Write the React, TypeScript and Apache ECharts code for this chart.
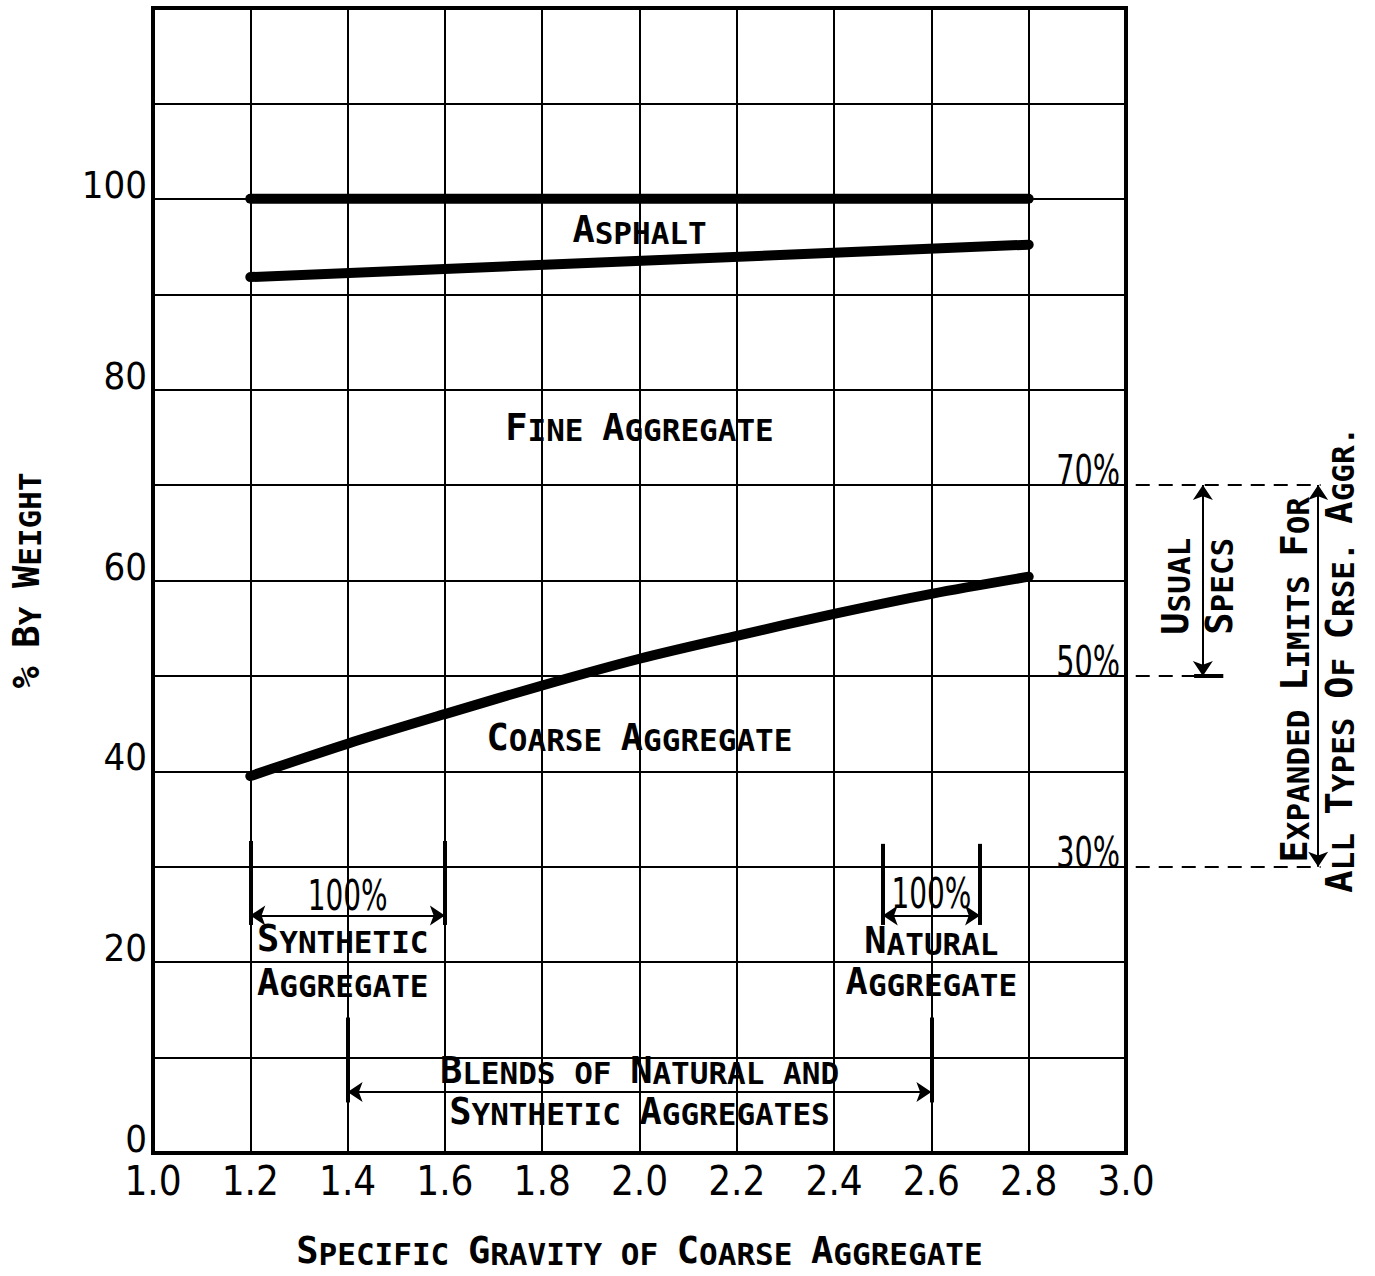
import React, { useEffect, useRef } from 'react';
import * as echarts from 'echarts';

// ---------- axes ----------
const xMin = 1.0;
const xMax = 3.0;
const xStep = 0.2;
const yMin = 0;
const yMax = 120;
const yStep = 10;
const yLabelValues = [0, 20, 40, 60, 80, 100];

// ---------- data curves ----------
const totalGravity = [1.2, 2.8];
const totalPct = [100, 100];
const asphaltGravity = [1.2, 2.8];
const asphaltBoundary = [91.8, 95.2];
const coarseGravity = [1.2, 1.4, 1.6, 1.8, 2.0, 2.2, 2.4, 2.6, 2.8];
const coarsePct = [39.5, 42.9, 46.0, 49.0, 51.8, 54.2, 56.5, 58.6, 60.4];

// ---------- specification limits ----------
const specLimits = [70, 50, 30];
const specLabels = ['70%', '50%', '30%'];

// ---------- annotation geometry (data units) ----------
const bracketLines: number[][][] = [
  [[1.2, 32.7], [1.2, 23.9]],
  [[1.6, 32.7], [1.6, 23.9]],
  [[2.5, 32.4], [2.5, 23.9]],
  [[2.7, 32.4], [2.7, 23.9]],
  [[1.4, 14.2], [1.4, 5.3]],
  [[2.6, 14.2], [2.6, 5.3]],
  [[3.14, 50], [3.2, 50]],
];
const arrowLines: number[][][] = [
  [[1.2, 24.9], [1.6, 24.9]],
  [[2.5, 24.9], [2.7, 24.9]],
  [[1.4, 6.4], [2.6, 6.4]],
  [[3.158, 70], [3.158, 50]],
  [[3.395, 70], [3.395, 30]],
];
const dashedLines: number[][][] = [
  [[3.02, 70], [3.4, 70]],
  [[3.02, 50], [3.15, 50]],
  [[3.02, 30], [3.4, 30]],
];

// ---------- annotation texts ----------
// [x, y, text, rotated]
const noteTexts: [number, number, string, boolean][] = [
  [2.0, 96.5, 'Asphalt', false],
  [2.0, 75.8, 'Fine Aggregate', false],
  [2.0, 43.3, 'Coarse Aggregate', false],
  [1.39, 22.2, 'Synthetic', false],
  [1.39, 17.6, 'Aggregate', false],
  [2.6, 22.0, 'Natural', false],
  [2.6, 17.7, 'Aggregate', false],
  [2.0, 8.4, 'Blends of Natural and', false],
  [2.0, 4.1, 'Synthetic Aggregates', false],
  [3.107, 59.4, 'Usual', true],
  [3.197, 59.4, 'Specs', true],
  [3.352, 49.6, 'Expanded Limits For', true],
  [3.444, 51.7, 'All Types Of Crse. Aggr.', true],
];
const pctTexts: [number, number, string][] = [
  [1.4, 27.0, '100%'],
  [2.6, 27.2, '100%'],
];

const xTitle = 'Specific Gravity of Coarse Aggregate';
const yTitle = '% By Weight';

const MONO = "'DejaVu Sans Mono', 'Liberation Mono', monospace";
const NARROW = "'Liberation Sans Narrow', 'DejaVu Sans Condensed', 'Liberation Sans', sans-serif";

function smallCaps(s: string): string {
  let out = '';
  let i = 0;
  const isBig = (c: string) => (c >= 'A' && c <= 'Z') || c === '%';
  while (i < s.length) {
    const big = isBig(s[i]);
    let j = i;
    while (j < s.length && isBig(s[j]) === big) j++;
    out += `{${big ? 'B' : 's'}|${s.slice(i, j).toUpperCase()}}`;
    i = j;
  }
  return out;
}

const capsRich = {
  B: { fontSize: 37, fontFamily: MONO, fontWeight: 'bold', color: '#000', verticalAlign: 'bottom', lineHeight: 32 },
  s: { fontSize: 31, fontFamily: MONO, fontWeight: 'bold', color: '#000', verticalAlign: 'bottom', lineHeight: 32 },
};

export default function App() {
  const ref = useRef<HTMLDivElement>(null);
  useEffect(() => {
    document.body.style.margin = '0';
    const chart = echarts.init(ref.current!, null, { renderer: 'svg' });
    const toPairs = (xs: number[], ys: number[]) => xs.map((x, i) => [x, ys[i]]);
    chart.setOption({
      animation: false,
      backgroundColor: '#fff',
      grid: {
        left: 153,
        right: 249,
        top: 8,
        bottom: 123,
        show: true,
        borderColor: '#000',
        borderWidth: 4,
        backgroundColor: 'transparent',
      },
      xAxis: {
        type: 'value',
        min: xMin,
        max: xMax,
        interval: xStep,
        axisLine: { show: false },
        axisTick: { show: false },
        splitLine: { show: true, lineStyle: { color: '#000', width: 2 } },
        axisLabel: {
          margin: 8,
          fontFamily: NARROW,
          fontSize: 40,
          color: '#000',
          formatter: (v: number) => v.toFixed(1),
        },
        name: smallCaps(xTitle),
        nameLocation: 'middle',
        nameGap: 84,
        nameTextStyle: { rich: capsRich },
      },
      yAxis: {
        type: 'value',
        min: yMin,
        max: yMax,
        interval: yStep,
        axisLine: { show: false },
        axisTick: { show: false },
        splitLine: { show: true, lineStyle: { color: '#000', width: 2 } },
        axisLabel: {
          margin: 6,
          fontFamily: NARROW,
          fontSize: 38,
          color: '#000',
          verticalAlign: 'bottom',
          lineHeight: 28,
          formatter: (v: number) => (yLabelValues.includes(Math.round(v)) ? String(Math.round(v)) : ''),
        },
        name: smallCaps(yTitle),
        nameLocation: 'middle',
        nameRotate: 90,
        nameGap: 108,
        nameTextStyle: { rich: capsRich },
      },
      series: [
        {
          type: 'line',
          data: toPairs(totalGravity, totalPct),
          symbol: 'none',
          lineStyle: { color: '#000', width: 10, cap: 'round' },
          z: 5,
        },
        {
          type: 'line',
          data: toPairs(asphaltGravity, asphaltBoundary),
          symbol: 'none',
          lineStyle: { color: '#000', width: 10, cap: 'round' },
          z: 5,
        },
        {
          type: 'line',
          data: toPairs(coarseGravity, coarsePct),
          symbol: 'none',
          smooth: 0.3,
          lineStyle: { color: '#000', width: 10, cap: 'round' },
          z: 5,
        },
        {
          type: 'lines',
          coordinateSystem: 'cartesian2d',
          clip: false,
          symbol: 'none',
          lineStyle: { color: '#000', width: 4, opacity: 1 },
          data: bracketLines.map((c) => ({ coords: c })),
          z: 6,
        },
        {
          type: 'lines',
          coordinateSystem: 'cartesian2d',
          clip: false,
          symbol: ['arrow', 'arrow'],
          symbolSize: 15,
          lineStyle: { color: '#000', width: 2, opacity: 1 },
          data: arrowLines.map((c) => ({ coords: c })),
          z: 6,
        },
        {
          type: 'lines',
          coordinateSystem: 'cartesian2d',
          clip: false,
          symbol: 'none',
          lineStyle: { color: '#000', width: 2, type: [14, 9], opacity: 1 },
          data: dashedLines.map((c) => ({ coords: c })),
          z: 6,
        },
      ],
    });

    const p = (x: number, y: number) => chart.convertToPixel({ gridIndex: 0 }, [x, y]) as number[];
    const graphic: any[] = [];
    noteTexts.forEach(([x, y, t, rot]) => {
      const [px, py] = p(x, y);
      graphic.push({
        type: 'text',
        x: px,
        y: py,
        rotation: rot ? Math.PI / 2 : 0,
        z: 10,
        style: {
          text: smallCaps(t),
          rich: capsRich,
          fill: '#000',
          align: 'center',
          verticalAlign: 'middle',
          textAlign: 'center',
          textVerticalAlign: 'middle',
        },
      });
    });
    pctTexts.forEach(([x, y, t]) => {
      const [px, py] = p(x, y);
      graphic.push({
        type: 'text',
        x: px,
        y: py,
        scaleX: 0.74,
        z: 10,
        style: {
          text: t,
          fontFamily: NARROW,
          fontSize: 42,
          fill: '#000',
          align: 'center',
          verticalAlign: 'middle',
          textAlign: 'center',
          textVerticalAlign: 'middle',
        },
      });
    });
    specLimits.forEach((v, i) => {
      const [px, py] = p(2.988, v + 1.5);
      graphic.push({
        type: 'text',
        x: px,
        y: py,
        scaleX: 0.76,
        z: 10,
        style: {
          text: specLabels[i],
          fontFamily: NARROW,
          fontSize: 42,
          fill: '#000',
          align: 'right',
          verticalAlign: 'middle',
          textAlign: 'right',
          textVerticalAlign: 'middle',
        },
      });
    });
    chart.setOption({ graphic });
    return () => chart.dispose();
  }, []);
  return <div ref={ref} style={{ width: 1375, height: 1276 }} />;
}
